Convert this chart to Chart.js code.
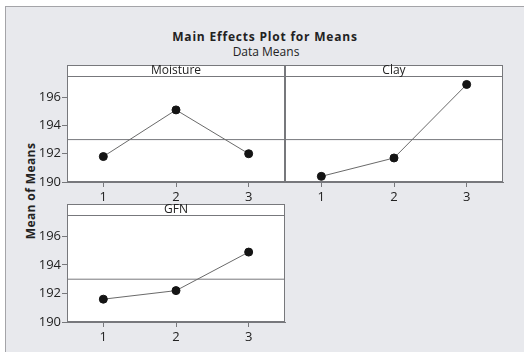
<!DOCTYPE html>
<html>
<head>
<meta charset="utf-8">
<script src="https://cdn.jsdelivr.net/npm/chart.js@4"></script>
<style>
  body { margin: 0; background: #fff; }
  #frame {
    position: absolute; left: 5px; top: 6px; width: 519px; height: 346px;
    background: #e8e9ed; border-left: 1px solid #a4a4a8; border-top: 1px solid #a4a4a8;
    box-sizing: border-box;
  }
  canvas { position: absolute; left: 0; top: 0; }
  .txt { position: absolute; font-family: "Open Sans", "Liberation Sans", sans-serif; color: #222; white-space: nowrap; }
  #title { left: 265px; top: 28px; transform: translateX(-50%); font-size: 12px; font-weight: bold; letter-spacing: 0.8px; }
  #subtitle { left: 266px; top: 43px; transform: translateX(-50%); font-size: 12px; }
  #ytitle { left: 30px; top: 191px; transform: translate(-50%, -50%) rotate(-90deg); font-size: 12px; font-weight: bold; letter-spacing: 0.4px; }
</style>
</head>
<body>
<div id="frame"></div>
<div class="txt" id="title">Main Effects Plot for Means</div>
<div class="txt" id="subtitle">Data Means</div>
<div class="txt" id="ytitle">Mean of Means</div>
<canvas id="moisture" width="524" height="352"></canvas>
<canvas id="clay" width="524" height="352"></canvas>
<canvas id="gfn" width="524" height="352"></canvas>
<script>
// data
const levels = [1, 2, 3];
const yTicks = [190, 192, 194, 196];
const grandMean = 193;
const moistureMeans = [191.8, 195.1, 192.0];
const clayMeans = [190.4, 191.7, 196.9];
const gfnMeans = [191.6, 192.2, 194.9];

const fontFamily = '"Open Sans", "Liberation Sans", sans-serif';

// white plot area, frame and the header strip with the factor name
const panelPlugin = {
    id: 'panel',
    beforeDraw(chart, args, opts) {
        const a = chart.chartArea;
        const ctx = chart.ctx;
        ctx.save();
        ctx.fillStyle = '#fff';
        ctx.fillRect(a.left, a.top - 11, a.right - a.left, a.bottom - a.top + 11);
        ctx.restore();
    },
    afterDatasetsDraw(chart, args, opts) {
        const a = chart.chartArea;
        const ctx = chart.ctx;
        ctx.save();
        ctx.strokeStyle = '#77787c';
        ctx.lineWidth = 1;
        ctx.strokeRect(a.left + 0.5, a.top - 11 + 0.5, a.right - a.left - 1, a.bottom - a.top + 11 - 1);
        ctx.beginPath();
        ctx.moveTo(a.left, a.top + 0.5);
        ctx.lineTo(a.right, a.top + 0.5);
        ctx.stroke();
        ctx.fillStyle = '#222';
        ctx.font = '12px ' + fontFamily;
        ctx.textAlign = 'center';
        ctx.textBaseline = 'middle';
        ctx.fillText(opts.label, (a.left + a.right) / 2, a.top - 5);
        ctx.restore();
    }
};

function makePanel(id, label, means, pad, showY) {
    new Chart(document.getElementById(id), {
        type: 'line',
        data: {
            datasets: [
                {
                    data: levels.map((l, i) => ({ x: l, y: means[i] })),
                    borderColor: '#6a6a6a',
                    borderWidth: 1,
                    pointRadius: 4,
                    pointBackgroundColor: '#141414',
                    pointBorderColor: '#141414',
                    pointBorderWidth: 1
                },
                {
                    data: [{ x: 0.5, y: grandMean }, { x: 3.5, y: grandMean }],
                    borderColor: '#77787c',
                    borderWidth: 1,
                    pointRadius: 0
                }
            ]
        },
        options: {
            responsive: false,
            animation: false,
            layout: { padding: pad },
            plugins: {
                legend: { display: false },
                tooltip: { enabled: false },
                panel: { label: label }
            },
            scales: {
                x: {
                    type: 'linear',
                    min: 0.5,
                    max: 3.5,
                    afterBuildTicks: s => { s.ticks = levels.map(v => ({ value: v })); },
                    afterFit: s => { s.height = 24; },
                    grid: { drawOnChartArea: false, tickLength: 5, color: '#77787c' },
                    border: { color: '#77787c' },
                    ticks: { color: '#222', font: { family: fontFamily, size: 13 }, padding: 2 }
                },
                y: {
                    display: showY,
                    min: 190,
                    max: 197.5,
                    afterBuildTicks: s => { s.ticks = yTicks.map(v => ({ value: v })); },
                    afterFit: s => { s.width = showY ? 30 : 0; },
                    grid: { drawOnChartArea: false, tickLength: 5, color: '#77787c' },
                    border: { color: '#77787c' },
                    ticks: { color: '#222', font: { family: fontFamily, size: 13 }, padding: 1 }
                }
            }
        },
        plugins: [panelPlugin]
    });
}

makePanel('moisture', 'Moisture', moistureMeans, { left: 37, right: 239, top: 76, bottom: 146 }, true);
makePanel('clay', 'Clay', clayMeans, { left: 285, right: 21, top: 76, bottom: 146 }, false);
makePanel('gfn', 'GFN', gfnMeans, { left: 37, right: 239, top: 215, bottom: 6 }, true);
</script>
</body>
</html>
